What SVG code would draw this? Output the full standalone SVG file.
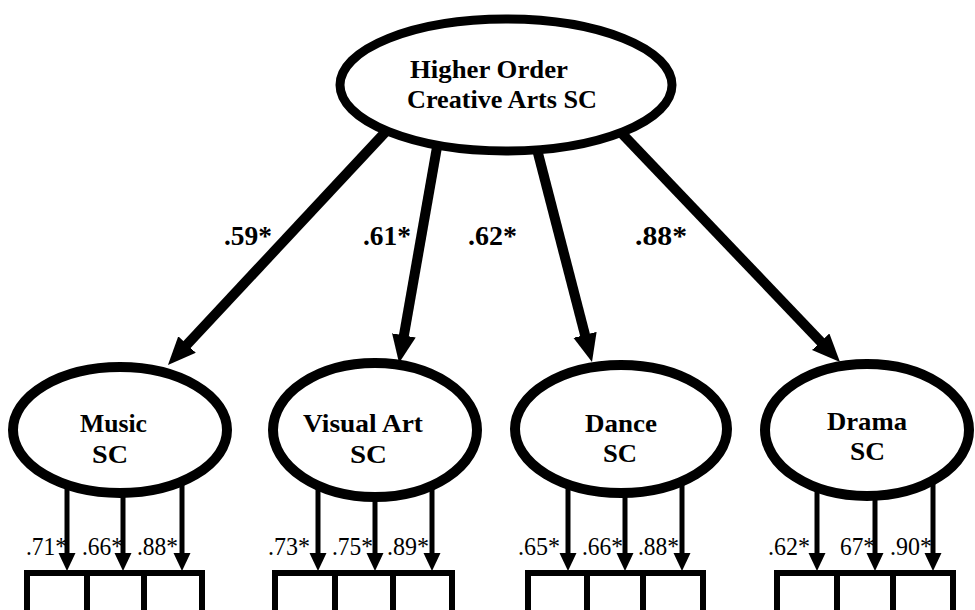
<svg xmlns="http://www.w3.org/2000/svg" width="975" height="610" viewBox="0 0 975 610">
<style>
.node{fill:#fff;stroke:#000}
.big{stroke-width:9}
.lat{stroke-width:10}
.t{font-family:"Liberation Serif","Times New Roman",serif;font-weight:bold;font-size:26px;fill:#000}
.lb{font-family:"Liberation Serif","Times New Roman",serif;font-weight:bold;font-size:27px;fill:#000}
.ld{font-family:"Liberation Serif","Times New Roman",serif;font-size:25px;fill:#000}
.path{stroke:#000;stroke-width:10;fill:none}
.load{stroke:#000;stroke-width:5;fill:none}
.box{fill:#fff;stroke:#000;stroke-width:6}
</style>
<defs>
<marker id="bigHead" markerUnits="userSpaceOnUse" markerWidth="30" markerHeight="26" refX="8" refY="12" orient="auto" viewBox="0 0 30 26">
<path d="M0,0 L28,12 L0,24 z" fill="#000"/>
</marker>
<marker id="smallHead" markerUnits="userSpaceOnUse" markerWidth="20" markerHeight="18" refX="6" refY="8.5" orient="auto" viewBox="0 0 20 18">
<path d="M0,0 L18,8.5 L0,17 z" fill="#000"/>
</marker>
</defs>
<rect width="975" height="610" fill="#fff"/>
<g id="connectors">
<line class="path" x1="392" y1="125" x2="181.6" y2="350.4" marker-end="url(#bigHead)"/>
<line class="path" x1="440" y1="130" x2="402.5" y2="343.3" marker-end="url(#bigHead)"/>
<line class="path" x1="532" y1="130" x2="587" y2="342.6" marker-end="url(#bigHead)"/>
<line class="path" x1="609" y1="120" x2="826.2" y2="347.5" marker-end="url(#bigHead)"/>
<line class="load" x1="67" y1="470" x2="67" y2="559" marker-end="url(#smallHead)"/>
<line class="load" x1="123" y1="470" x2="123" y2="559" marker-end="url(#smallHead)"/>
<line class="load" x1="182" y1="470" x2="182" y2="559" marker-end="url(#smallHead)"/>
<line class="load" x1="318" y1="470" x2="318" y2="559" marker-end="url(#smallHead)"/>
<line class="load" x1="375" y1="470" x2="375" y2="559" marker-end="url(#smallHead)"/>
<line class="load" x1="432" y1="470" x2="432" y2="559" marker-end="url(#smallHead)"/>
<line class="load" x1="568" y1="470" x2="568" y2="559" marker-end="url(#smallHead)"/>
<line class="load" x1="625" y1="470" x2="625" y2="559" marker-end="url(#smallHead)"/>
<line class="load" x1="682" y1="470" x2="682" y2="559" marker-end="url(#smallHead)"/>
<line class="load" x1="817" y1="470" x2="817" y2="559" marker-end="url(#smallHead)"/>
<line class="load" x1="875" y1="470" x2="875" y2="559" marker-end="url(#smallHead)"/>
<line class="load" x1="933" y1="470" x2="933" y2="559" marker-end="url(#smallHead)"/>
<text class="lb" x="224" y="245" textLength="48" lengthAdjust="spacingAndGlyphs">.59*</text>
<text class="lb" x="363" y="245" textLength="48" lengthAdjust="spacingAndGlyphs">.61*</text>
<text class="lb" x="468" y="245" textLength="49" lengthAdjust="spacingAndGlyphs">.62*</text>
<text class="lb" x="635" y="245" textLength="52" lengthAdjust="spacingAndGlyphs">.88*</text>
<text class="ld" x="26" y="555" textLength="41" lengthAdjust="spacingAndGlyphs">.71*</text>
<text class="ld" x="82" y="555" textLength="41" lengthAdjust="spacingAndGlyphs">.66*</text>
<text class="ld" x="137" y="555" textLength="41" lengthAdjust="spacingAndGlyphs">.88*</text>
<text class="ld" x="268" y="555" textLength="42" lengthAdjust="spacingAndGlyphs">.73*</text>
<text class="ld" x="332" y="555" textLength="41" lengthAdjust="spacingAndGlyphs">.75*</text>
<text class="ld" x="387" y="555" textLength="42" lengthAdjust="spacingAndGlyphs">.89*</text>
<text class="ld" x="518" y="555" textLength="42" lengthAdjust="spacingAndGlyphs">.65*</text>
<text class="ld" x="582" y="555" textLength="41" lengthAdjust="spacingAndGlyphs">.66*</text>
<text class="ld" x="638" y="555" textLength="41" lengthAdjust="spacingAndGlyphs">.88*</text>
<text class="ld" x="768" y="555" textLength="42" lengthAdjust="spacingAndGlyphs">.62*</text>
<text class="ld" x="840" y="555" textLength="35" lengthAdjust="spacingAndGlyphs">67*</text>
<text class="ld" x="890" y="555" textLength="42" lengthAdjust="spacingAndGlyphs">.90*</text>
</g>
<g id="higher">
<ellipse class="node big" cx="506" cy="85" rx="166" ry="66"/>
<text class="t" x="410" y="78" textLength="158" lengthAdjust="spacingAndGlyphs">Higher Order</text>
<text class="t" x="407" y="108" textLength="190" lengthAdjust="spacingAndGlyphs">Creative Arts SC</text>
</g>
<g id="music">
<ellipse class="node lat" cx="120" cy="430" rx="107" ry="63"/>
<text class="t" x="80" y="432" textLength="67" lengthAdjust="spacingAndGlyphs">Music</text>
<text class="t" x="92" y="463" textLength="36" lengthAdjust="spacingAndGlyphs">SC</text>
<rect class="box" x="27" y="573" width="60" height="60"/>
<rect class="box" x="87" y="573" width="57" height="60"/>
<rect class="box" x="144" y="573" width="58" height="60"/>
</g>
<g id="visual">
<ellipse class="node lat" cx="375" cy="430" rx="102" ry="67"/>
<text class="t" x="303" y="432" textLength="120" lengthAdjust="spacingAndGlyphs">Visual Art</text>
<text class="t" x="350" y="463" textLength="37" lengthAdjust="spacingAndGlyphs">SC</text>
<rect class="box" x="275" y="573" width="60" height="60"/>
<rect class="box" x="335" y="573" width="58" height="60"/>
<rect class="box" x="393" y="573" width="59" height="60"/>
</g>
<g id="dance">
<ellipse class="node lat" cx="621" cy="429" rx="106" ry="64"/>
<text class="t" x="585" y="432" textLength="72" lengthAdjust="spacingAndGlyphs">Dance</text>
<text class="t" x="603" y="462" textLength="34" lengthAdjust="spacingAndGlyphs">SC</text>
<rect class="box" x="528" y="573" width="59" height="60"/>
<rect class="box" x="587" y="573" width="56" height="60"/>
<rect class="box" x="643" y="573" width="60" height="60"/>
</g>
<g id="drama">
<ellipse class="node lat" cx="867" cy="430" rx="102" ry="66"/>
<text class="t" x="827" y="430" textLength="80" lengthAdjust="spacingAndGlyphs">Drama</text>
<text class="t" x="850" y="460" textLength="35" lengthAdjust="spacingAndGlyphs">SC</text>
<rect class="box" x="777" y="573" width="60" height="60"/>
<rect class="box" x="837" y="573" width="56" height="60"/>
<rect class="box" x="893" y="573" width="60" height="60"/>
</g>
</svg>
